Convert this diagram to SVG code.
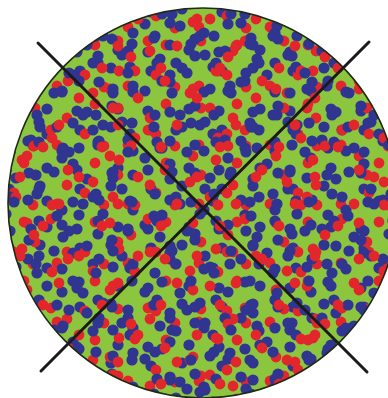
<svg xmlns="http://www.w3.org/2000/svg" width="388" height="398" viewBox="0 0 388 398">
  <style>
    .r { fill: #e2262b; }
    .b { fill: #2f3590; }
    .ln { stroke: #1a1a1a; stroke-width: 3; stroke-linecap: round; fill: none; }
  </style>
  <defs>
    <pattern id="pA" patternUnits="userSpaceOnUse" x="0" y="0" width="71" height="59">
      <circle class="b" cx="9" cy="12" r="5.6"/>
      <circle class="r" cx="14" cy="16" r="5.4"/>
      <circle class="b" cx="40" cy="9" r="5.6"/>
      <circle class="r" cx="57" cy="27" r="5.4"/>
      <circle class="b" cx="62" cy="33" r="5.6"/>
      <circle class="r" cx="24" cy="45" r="5.4"/>
      <circle class="b" cx="47" cy="50" r="5.6"/>
      <circle class="r" cx="33" cy="28" r="5.4"/>
      <circle class="b" cx="28" cy="23" r="5.6"/>
      <circle class="b" cx="6" cy="52" r="5.6"/>
    </pattern>
    <pattern id="pB" patternUnits="userSpaceOnUse" x="17" y="31" width="83" height="67">
      <circle class="r" cx="18" cy="10" r="5.4"/>
      <circle class="b" cx="12" cy="8" r="5.6"/>
      <circle class="r" cx="50" cy="20" r="5.4"/>
      <circle class="b" cx="70" cy="14" r="5.6"/>
      <circle class="b" cx="30" cy="36" r="5.6"/>
      <circle class="r" cx="35" cy="40" r="5.4"/>
      <circle class="b" cx="62" cy="50" r="5.6"/>
      <circle class="r" cx="10" cy="58" r="5.4"/>
      <circle class="b" cx="45" cy="60" r="5.6"/>
      <circle class="b" cx="76" cy="32" r="5.6"/>
      <circle class="b" cx="22" cy="24" r="5.6"/>
    </pattern>
    <pattern id="pC" patternUnits="userSpaceOnUse" x="43" y="11" width="97" height="89">
      <circle class="r" cx="8" cy="30" r="5.4"/>
      <circle class="b" cx="14" cy="27" r="5.6"/>
      <circle class="b" cx="40" cy="15" r="5.6"/>
      <circle class="r" cx="70" cy="8" r="5.4"/>
      <circle class="b" cx="85" cy="40" r="5.6"/>
      <circle class="r" cx="88" cy="46" r="5.4"/>
      <circle class="b" cx="55" cy="45" r="5.6"/>
      <circle class="b" cx="30" cy="64" r="5.6"/>
      <circle class="r" cx="25" cy="70" r="5.4"/>
      <circle class="b" cx="70" cy="78" r="5.6"/>
      <circle class="r" cx="50" cy="82" r="5.4"/>
      <circle class="b" cx="90" cy="75" r="5.6"/>
      <circle class="b" cx="20" cy="48" r="5.6"/>
      <circle class="r" cx="76" cy="60" r="5.4"/>
      <circle class="b" cx="60" cy="25" r="5.6"/>
    </pattern>
    <pattern id="pD" patternUnits="userSpaceOnUse" x="29" y="53" width="59" height="79">
      <circle class="b" cx="10" cy="10" r="5.6"/>
      <circle class="r" cx="14" cy="15" r="5.4"/>
      <circle class="b" cx="40" cy="20" r="5.6"/>
      <circle class="b" cx="25" cy="40" r="5.6"/>
      <circle class="r" cx="50" cy="45" r="5.4"/>
      <circle class="b" cx="8" cy="62" r="5.6"/>
      <circle class="b" cx="44" cy="70" r="5.6"/>
      <circle class="r" cx="30" cy="72" r="5.4"/>
    </pattern>
  </defs>
  <rect width="388" height="398" fill="#ffffff"/>
  <circle cx="203" cy="203" r="195" fill="#8cc63f"/>
  <circle cx="203" cy="203" r="195" fill="url(#pA)"/>
  <circle cx="203" cy="203" r="195" fill="url(#pB)"/>
  <circle cx="203" cy="203" r="195" fill="url(#pC)"/>
  <circle cx="203" cy="203" r="195" fill="url(#pD)"/>
  <circle cx="203" cy="203" r="195" fill="none" stroke="#1f2a14" stroke-width="1.6"/>
  <line class="ln" x1="38" y1="43" x2="367" y2="372"/>
  <line class="ln" x1="369" y1="42" x2="41" y2="371"/>
</svg>
